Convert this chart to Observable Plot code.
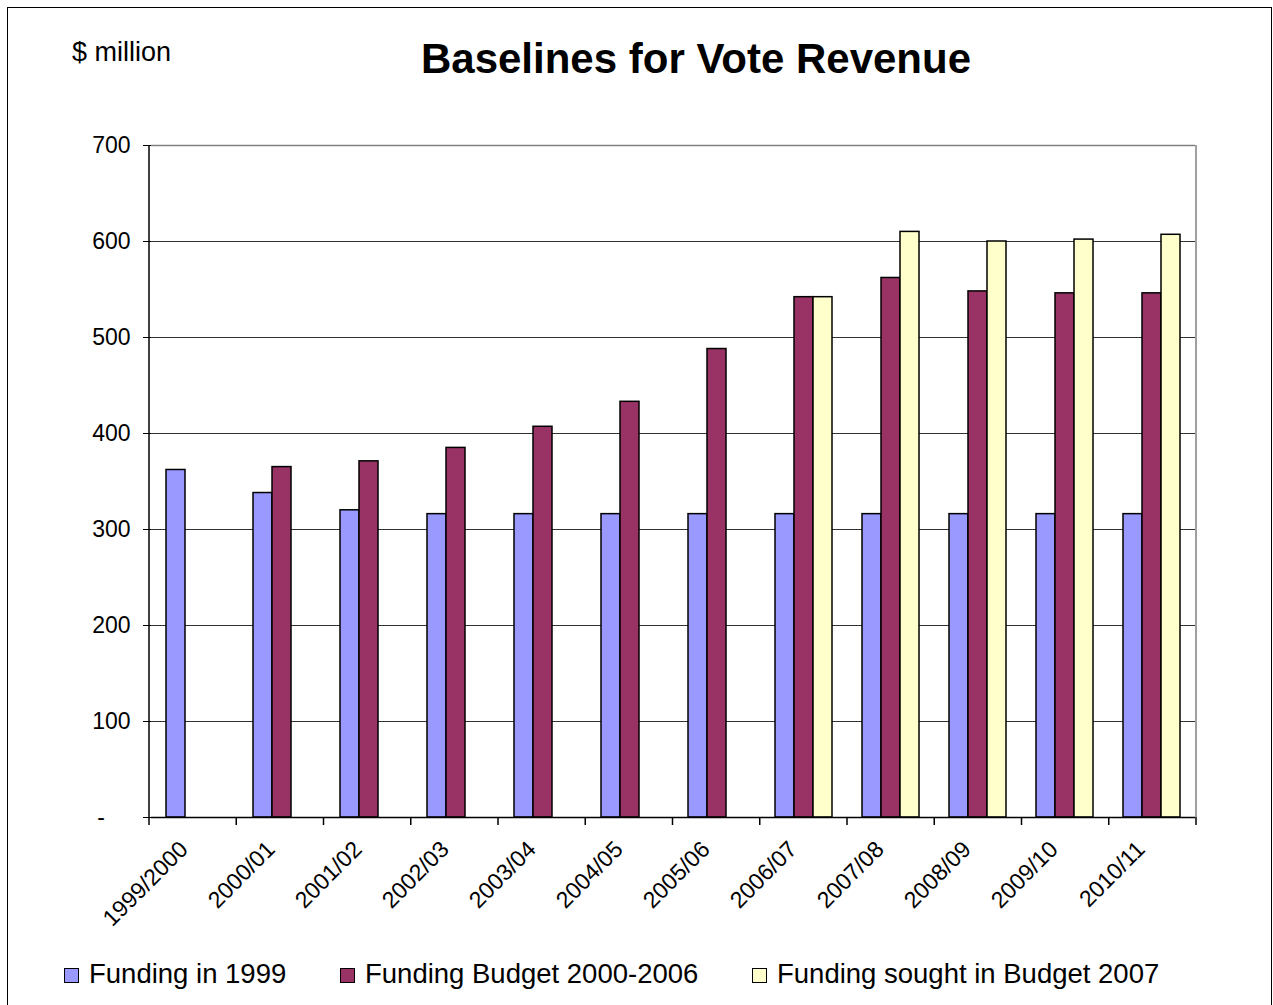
<!DOCTYPE html>
<html>
<head>
<meta charset="utf-8">
<script src="https://cdn.jsdelivr.net/npm/d3@7"></script>
<script src="https://cdn.jsdelivr.net/npm/@observablehq/plot@0.6"></script>
<style>
  body { margin: 0; background: #fff; font-family: "Liberation Sans", Arial, sans-serif; }
  #wrap { position: relative; width: 1273px; height: 1005px; overflow: hidden; background: #fff; }
  #border { position: absolute; left: 7px; top: 7px; width: 1265px; height: 1020px; border: 1.5px solid #000; box-sizing: border-box; pointer-events: none; }
  .txt { position: absolute; white-space: nowrap; color: #000; }
  #title { left: 0; width: 1392px; text-align: center; top: 38px; font-size: 42px; line-height: 42px; font-weight: bold; }
  #unit { left: 72px; top: 39px; font-size: 27px; line-height: 27px; }
  #chart { position: absolute; left: 0; top: 100px; }
  .leg { position: absolute; top: 960px; font-size: 27.5px; line-height: 27.5px; white-space: nowrap; }
  .sw { position: absolute; width: 15px; height: 15px; border: 1.5px solid #000; box-sizing: border-box; }
</style>
</head>
<body>
<div id="wrap">
  <div id="title" class="txt">Baselines for Vote Revenue</div>
  <div id="unit" class="txt">$ million</div>
  <div id="chart"></div>
  <div id="legend"></div>
  <div id="border"></div>
</div>
<script>
const years = ["1999/2000","2000/01","2001/02","2002/03","2003/04","2004/05","2005/06","2006/07","2007/08","2008/09","2009/10","2010/11"];
const funding1999 = [362, 338, 320, 316, 316, 316, 316, 316, 316, 316, 316, 316];
const fundingBudget2000_2006 = [null, 365, 371, 385, 407, 433, 488, 542, 562, 548, 546, 546];
const fundingSought2007 = [null, null, null, null, null, null, null, 542, 610, 600, 602, 607];
const seriesNames = ["Funding in 1999", "Funding Budget 2000-2006", "Funding sought in Budget 2007"];
const seriesColors = ["#9999FF", "#993366", "#FFFFCC"];
const yTicks = [0, 100, 200, 300, 400, 500, 600, 700];

const rows = [];
[funding1999, fundingBudget2000_2006, fundingSought2007].forEach((arr, s) => {
  arr.forEach((v, i) => {
    if (v != null) rows.push({ year: years[i], series: seriesNames[s], value: v });
  });
});

const chart = Plot.plot({
  width: 1273,
  height: 817,
  marginTop: 45,
  marginBottom: 100,
  marginLeft: 149,
  marginRight: 77,
  style: { fontFamily: "'Liberation Sans', Arial, sans-serif", fontSize: "23px", color: "#000", background: "transparent", overflow: "visible" },
  facet: { data: rows, x: "year" },
  fx: { domain: years, padding: 0, label: null, axis: "bottom", tickSize: 0, tickRotate: -45, tickPadding: 22 },
  x: { domain: seriesNames, paddingInner: 0, paddingOuter: 0.74, axis: null },
  y: { domain: [0, 700], ticks: yTicks, tickSize: 8, tickPadding: 13, label: null,
       tickFormat: d => d === 0 ? "-\u00a0\u00a0\u00a0\u00a0" : String(d) },
  color: { domain: seriesNames, range: seriesColors },
  marks: [
    Plot.ruleY(yTicks.filter(d => d > 0 && d < 700), { stroke: "#333", strokeWidth: 1 }),
    Plot.ruleY([700], { stroke: "#808080", strokeWidth: 1.5 }),
    Plot.barY(rows, { x: "series", y: "value", fill: "series", stroke: "#000", strokeWidth: 1.5 }),
    Plot.ruleY([0], { stroke: "#000", strokeWidth: 1.5 })
  ]
});
document.getElementById("chart").appendChild(chart);

// nudge the rotated category labels (as the reference sets them)
d3.select(chart).selectAll('g[aria-label^="fx-axis"]').each(function () {
  const t = this.getAttribute("transform") || "";
  this.setAttribute("transform", "translate(-11,6) " + t);
});

// axis lines and category boundary ticks, derived from the plot's own scales
const fxs = chart.scale("fx");
const ys = chart.scale("y");
const band = d3.scaleBand().domain(fxs.domain).range(fxs.range)
  .paddingInner(fxs.paddingInner || 0).paddingOuter(fxs.paddingOuter || 0).align(fxs.align == null ? 0.5 : fxs.align);
const yScale = d3.scaleLinear().domain(ys.domain).range(ys.range);
const edges = fxs.domain.map(d => band(d)).concat([band(fxs.domain[fxs.domain.length - 1]) + band.bandwidth()]);
const svg = d3.select(chart);
const g = svg.append("g");
const y0 = yScale(0), yTop = yScale(700);
g.append("line").attr("x1", edges[edges.length - 1]).attr("x2", edges[edges.length - 1])
  .attr("y1", yTop).attr("y2", y0).attr("stroke", "#808080").attr("stroke-width", 1.5);
g.append("line").attr("x1", edges[0]).attr("x2", edges[0])
  .attr("y1", yTop).attr("y2", y0).attr("stroke", "#000").attr("stroke-width", 1.5);
g.selectAll(".xt").data(edges).join("line")
  .attr("x1", d => d).attr("x2", d => d).attr("y1", y0).attr("y2", y0 + 8)
  .attr("stroke", "#000").attr("stroke-width", 1.5);

// legend
const legendX = [64, 340, 752];
const legend = document.getElementById("legend");
seriesNames.forEach((name, i) => {
  const sw = document.createElement("div");
  sw.className = "sw";
  sw.style.left = legendX[i] + "px";
  sw.style.top = "968px";
  sw.style.background = seriesColors[i];
  legend.appendChild(sw);
  const t = document.createElement("div");
  t.className = "leg";
  t.style.left = (legendX[i] + 25) + "px";
  t.textContent = name;
  legend.appendChild(t);
});
</script>
</body>
</html>
